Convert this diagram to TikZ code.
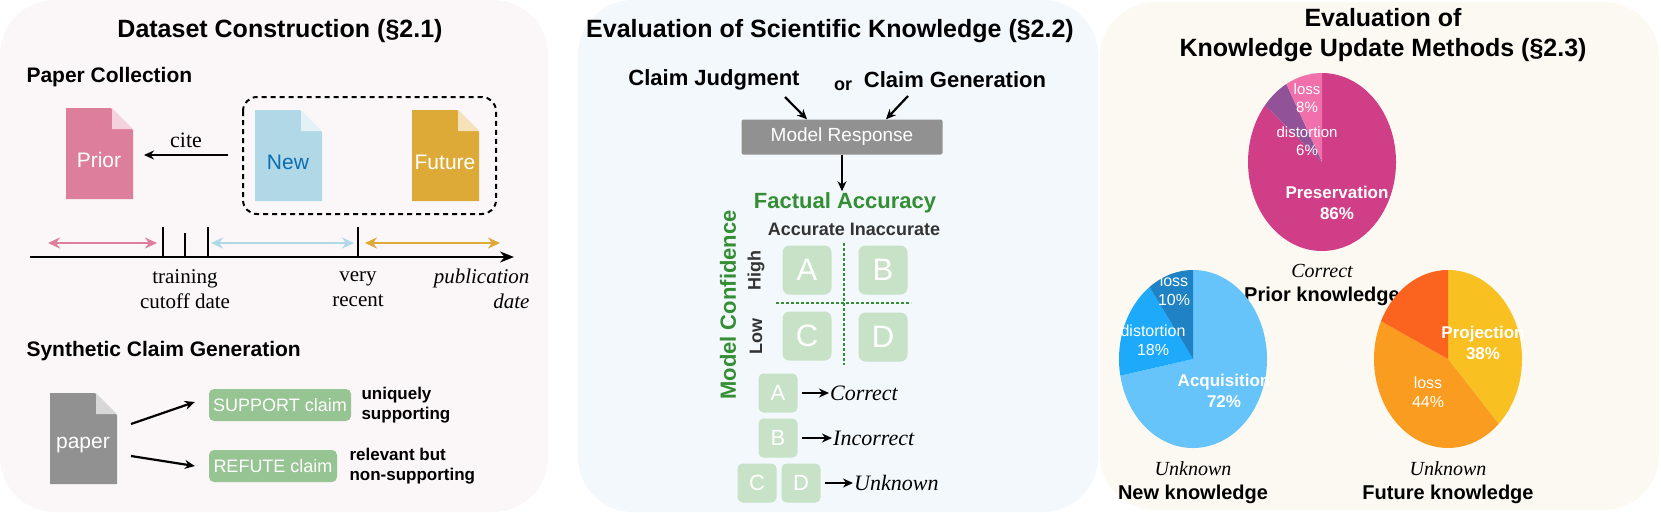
\documentclass[tikz,border=0pt]{standalone}
\usepackage{fontspec}
\setmainfont{Liberation Serif}
\setsansfont{Liberation Sans}
\usetikzlibrary{arrows.meta,positioning}

\definecolor{leftbg}{RGB}{251,246,248}
\definecolor{midbg}{RGB}{242,248,251}
\definecolor{rightbg}{RGB}{251,249,242}
\definecolor{priorpink}{RGB}{221,126,157}
\definecolor{newblue}{RGB}{177,216,230}
\definecolor{newtext}{RGB}{10,110,180}
\definecolor{futuregold}{RGB}{222,170,55}
\definecolor{papergray}{RGB}{145,145,145}
\definecolor{claimgreen}{RGB}{150,196,146}
\definecolor{boxgreen}{RGB}{200,226,200}
\definecolor{factgreen}{RGB}{52,142,52}
\definecolor{presmag}{RGB}{208,62,136}
\definecolor{prespurple}{RGB}{146,82,152}
\definecolor{preslight}{RGB}{240,112,172}
\definecolor{acqblue}{RGB}{102,196,250}
\definecolor{acqmid}{RGB}{30,170,250}
\definecolor{acqdark}{RGB}{30,130,196}
\definecolor{projyellow}{RGB}{248,192,32}
\definecolor{projorange}{RGB}{250,156,32}
\definecolor{projred}{RGB}{250,100,30}

\newcommand{\fs}[1]{\fontsize{#1}{\the\dimexpr #1pt*6/5\relax}\selectfont}

% paper icon: name, left, top, fill, text colour, label
\newcommand{\paperdoc}[6]{%
  \fill[#4] (#2,#3) -- (#2+45,#3) -- (#2+67,#3+22) -- (#2+67,#3+91) -- (#2,#3+91) -- cycle;
  \fill[#4!35] (#2+46,#3) -- (#2+46,#3+21) -- (#2+67,#3+21) -- cycle;
  \node[text=#5,font=\sffamily\fs{21}] (#1) at (#2+33,#3+52) {#6};
}
% pie sector: centre, start, end (screen angles, counter-clockwise), colour
\newcommand{\sector}[4]{%
  \fill[#4] (#1) -- ++({-#2}:74 and 89) arc[start angle={-#2},end angle={-#3},x radius=74,y radius=89] -- cycle;
}

\begin{document}
\begin{tikzpicture}[x=1pt,y=-1pt,
  panel/.style={rounded corners=55pt},
  title/.style={font=\sffamily\bfseries\fs{25}},
  subtitle/.style={font=\sffamily\bfseries\fs{21},anchor=west},
  claimbox/.style={fill=claimgreen,rounded corners=5pt,text=white,font=\sffamily\fs{18},inner sep=0pt,minimum height=32pt},
  cellbox/.style={fill=boxgreen,rounded corners=7pt,text=white,font=\sffamily\fs{31},minimum size=49pt,inner sep=0pt},
  tinybox/.style={fill=boxgreen,rounded corners=5pt,text=white,font=\sffamily\fs{22},minimum size=39pt,inner sep=0pt},
  serifl/.style={font=\fs{21},align=center},
  outcome/.style={font=\itshape\fs{22},anchor=west,inner sep=1pt},
  pielab/.style={text=white,font=\sffamily\fs{15},align=center,inner sep=0pt},
  pieboldlab/.style={text=white,font=\sffamily\bfseries\fs{17},align=center,inner sep=0pt},
  arr/.style={-{Stealth[length=10pt,width=9pt]},line width=2.2pt},
  twoway/.style={{Stealth[length=12pt,width=11pt]}-{Stealth[length=12pt,width=11pt]},line width=2.4pt}]
\useasboundingbox (0,0) rectangle (1661,512);

% panels
\fill[leftbg,panel] (0,0) rectangle (548,512);
\fill[midbg,panel] (578,0) rectangle (1098,512);
\fill[rightbg,panel] (1100,2) rectangle (1659,510);

%% Dataset construction
\node[title] (t1) at (280,31) {Dataset Construction (§2.1)};
\node[subtitle] (pc) at (23,77) {Paper Collection};
\paperdoc{prior}{66}{108}{priorpink}{white}{Prior}
\paperdoc{new}{255}{110}{newblue}{newtext}{New}
\paperdoc{future}{412}{110}{futuregold}{white}{Future}
\draw[dashed,line width=2pt,dash pattern=on 5pt off 4pt,rounded corners=14pt] (243,97) rectangle (496,214);
\coordinate (citefrom) at (228,155);
\coordinate (citeto) at (144,155);
\draw[arr] (citefrom) -- node[above=3pt,font=\fs{22}] (cite) {cite} (citeto);

% timeline
\coordinate (tstart) at (30,257);
\coordinate (tend) at (514,257);
\draw[-{Stealth[length=14pt,width=11pt]},line width=2.2pt] (tstart) -- (tend);
\foreach \tx/\th in {163/30,185/24,208/30,358/30}
  \draw[line width=2.6pt] (\tx,257) -- (\tx,257-\th);
\coordinate (p1) at (48,243); \coordinate (p2) at (157,243);
\coordinate (n1) at (211,243); \coordinate (n2) at (354,243);
\coordinate (f1) at (365,243); \coordinate (f2) at (500,243);
\draw[twoway,priorpink] (p1) -- (p2);
\draw[twoway,newblue] (n1) -- (n2);
\draw[twoway,futuregold] (f1) -- (f2);
\node[serifl] (cutoff) at (185,289) {training\\cutoff date};
\node[serifl] (recent) at (358,289) {very\\recent};
\node[serifl,font=\itshape\fs{21},align=right,anchor=east] (pubdate) at (533,289) {publication\\date};

% synthetic claims
\node[subtitle] (scg) at (23,351) {Synthetic Claim Generation};
\paperdoc{paper}{50}{393}{papergray}{white}{paper}
\node[claimbox,minimum width=142pt] (support) at (280,405) {SUPPORT claim};
\node[claimbox,minimum width=128pt] (refute) at (273,466) {REFUTE claim};
\coordinate (pa) at (131,424); \coordinate (pb) at (131,456);
\draw[arr] (pa) -- ([xshift=-14pt,yshift=3pt]support.west);
\draw[arr] (pb) -- ([xshift=-14pt,yshift=0pt]refute.west);
\node[font=\sffamily\bfseries\fs{17},align=left,anchor=west] (uniq) at (358,405) {uniquely\\supporting};
\node[font=\sffamily\bfseries\fs{17},align=left,anchor=west] (relev) at (346,466) {relevant but\\non-supporting};

%% Evaluation of scientific knowledge
\node[title] (t2) at (830,31) {Evaluation of Scientific Knowledge (§2.2)};
\node[font=\sffamily\bfseries\fs{22}] (judg) at (714,80) {Claim Judgment};
\node[font=\sffamily\bfseries\fs{18}] (or) at (843,86) {or};
\node[font=\sffamily\bfseries\fs{22}] (gen) at (955,80) {Claim Generation};
\node[fill=papergray,rounded corners=2pt,text=white,font=\sffamily\fs{19},minimum width=201pt,minimum height=35pt] (resp) at (842,137) {Model Response};
\coordinate (j1) at (785,97); \coordinate (g1) at (908,96);
\draw[arr] (j1) -- ([xshift=-35pt]resp.north);
\draw[arr] (g1) -- ([xshift=44pt]resp.north);
\node[text=factgreen,font=\sffamily\bfseries\fs{22}] (fact) at (845,203) {Factual Accuracy};
\draw[arr] (resp.south) -- ([yshift=-2pt]resp.south |- fact.north);
\node[text=black!80,font=\sffamily\bfseries\fs{18}] (accin) at (854,229) {Accurate Inaccurate};
\node[text=factgreen,font=\sffamily\bfseries\fs{22},rotate=90] (conf) at (728,305) {Model Confidence};
\node[text=black!80,font=\sffamily\bfseries\fs{18},rotate=90] (high) at (756,270) {High};
\node[text=black!80,font=\sffamily\bfseries\fs{18},rotate=90] (low) at (756,336) {Low};
\node[cellbox] (ca) at (807,270) {A};
\node[cellbox] (cb) at (883,270) {B};
\node[cellbox] (cc) at (807,336) {C};
\node[cellbox] (cd) at (883,337) {D};
\draw[factgreen,line width=2.2pt,dash pattern=on 2.5pt off 2.5pt] (844,243) -- (844,365);
\draw[factgreen,line width=2.2pt,dash pattern=on 2.5pt off 2.5pt] (776,303) -- (911,303);
\node[tinybox] (sa) at (778,393) {A};
\node[tinybox] (sb) at (778,438) {B};
\node[tinybox] (sc) at (757,483) {C};
\node[tinybox] (sd) at (801,483) {D};
\node[outcome] (corr) at (829,393) {Correct};
\node[outcome] (incorr) at (832,438) {Incorrect};
\node[outcome] (unk) at (853,483) {Unknown};
\draw[arr,line width=1.8pt] ([xshift=4pt]sa.east) -- (corr.west);
\draw[arr,line width=1.8pt] ([xshift=4pt]sb.east) -- (incorr.west);
\draw[arr,line width=1.8pt] ([xshift=4pt]sd.east) -- (unk.west);

%% Evaluation of knowledge update methods
\node[title,align=center] (t3) at (1383,35) {Evaluation of\\Knowledge Update Methods (§2.3)};

% prior knowledge pie
\coordinate (pc1) at (1322,162);
\sector{pc1}{140.4}{450}{presmag}
\sector{pc1}{118.8}{140.4}{prespurple}
\sector{pc1}{90}{118.8}{preslight}
\node[pielab] (ploss) at (1307,98) {loss\\8\%};
\node[pielab] (pdist) at (1307,141) {distortion\\6\%};
\node[pieboldlab] (pres) at (1337,203) {Preservation\\86\%};
\node[font=\itshape\fs{20}] (lcorr) at (1322,271) {Correct};
\node[font=\sffamily\bfseries\fs{20}] (lprior) at (1322,296) {Prior knowledge};

% new knowledge pie
\coordinate (pc2) at (1193,359);
\sector{pc2}{190.8}{450}{acqblue}
\sector{pc2}{126}{190.8}{acqmid}
\sector{pc2}{90}{126}{acqdark}
\node[pielab,font=\sffamily\fs{16}] (nloss) at (1174,290) {loss\\10\%};
\node[pielab,font=\sffamily\fs{16}] (ndist) at (1153,340) {distortion\\18\%};
\node[pieboldlab] (acq) at (1224,391) {Acquisition\\72\%};
\node[font=\itshape\fs{20}] (lunk1) at (1193,469) {Unknown};
\node[font=\sffamily\bfseries\fs{20}] (lnew) at (1193,494) {New knowledge};

% future knowledge pie
\coordinate (pc3) at (1448,359);
\sector{pc3}{-46.8}{90}{projyellow}
\sector{pc3}{154.8}{313.2}{projorange}
\sector{pc3}{90}{154.8}{projred}
\node[pieboldlab] (proj) at (1483,343) {Projection\\38\%};
\node[pielab,font=\sffamily\fs{16}] (floss) at (1428,392) {loss\\44\%};
\node[font=\itshape\fs{20}] (lunk2) at (1448,469) {Unknown};
\node[font=\sffamily\bfseries\fs{20}] (lfut) at (1448,494) {Future knowledge};

\end{tikzpicture}
\end{document}
